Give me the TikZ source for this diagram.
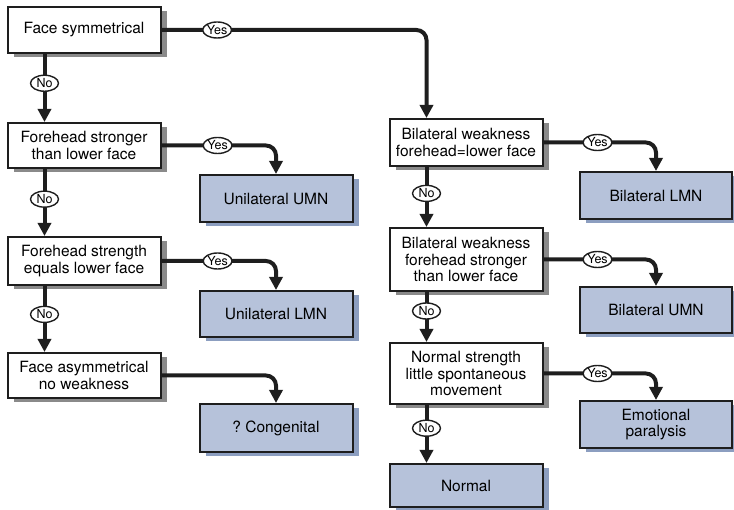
\documentclass[tikz,border=0pt]{standalone}
\usepackage{fontspec}
\setmainfont{TeX Gyre Heros}
\usetikzlibrary{arrows.meta,shapes.geometric,shadows}
\definecolor{ink}{HTML}{1E1E1E}
\definecolor{resultblue}{HTML}{B6C2DA}
\definecolor{shadowgray}{HTML}{8A8A8A}
\definecolor{shadowblue}{HTML}{8C9EC0}

\begin{document}
\begin{tikzpicture}[
    x=1pt, y=-1pt,
    >={Triangle[width=13pt,length=13pt]},
    boxbase/.style={draw=ink, line width=2pt, align=center, inner sep=2pt,
      font=\fontsize{15.5}{16.5}\selectfont},
    qbox/.style={boxbase, fill=white,
      drop shadow={shadow xshift=6pt, shadow yshift=-4pt, fill=shadowgray, opacity=1}},
    rbox/.style={boxbase, fill=resultblue,
      drop shadow={shadow xshift=6pt, shadow yshift=-4pt, fill=shadowblue, opacity=1}},
    yn/.style={ellipse, draw=ink, line width=1.4pt, fill=white, inner sep=0pt,
      minimum width=28pt, minimum height=16pt, font=\fontsize{12.5}{12.5}\selectfont},
    flow/.style={draw=ink, line width=4pt, ->, rounded corners=10pt},
  ]
  \def\qw{153pt}
  \clip (0,0) rectangle (734,510);

  % ========= LEFT: UNILATERAL =========
  \node[qbox, minimum width=\qw, minimum height=46pt] (fs) at (84,30) {Face symmetrical};
  \node[qbox, minimum width=\qw, minimum height=45pt] (fh) at (84,145.5) {Forehead stronger\\than lower face};
  \node[qbox, minimum width=\qw, minimum height=48pt] (fe) at (84,261) {Forehead strength\\equals lower face};
  \node[qbox, minimum width=\qw, minimum height=45pt] (fa) at (84,375.5) {Face asymmetrical\\no weakness};

  % Results
  \node[rbox, minimum width=\qw, minimum height=47pt] (uu) at (276,198.5) {Unilateral UMN};
  \node[rbox, minimum width=\qw, minimum height=46pt] (ul) at (276,314) {Unilateral LMN};
  \node[rbox, minimum width=\qw, minimum height=48pt] (cg) at (276,428) {?\ Congenital};

  % ========= RIGHT: BILATERAL =========
  \node[qbox, minimum width=\qw, minimum height=47pt] (bw1) at (466,142.5) {Bilateral weakness\\forehead=lower face};
  \node[qbox, minimum width=\qw, minimum height=63pt] (bw2) at (466,259.5) {Bilateral weakness\\forehead stronger\\than lower face};
  \node[qbox, minimum width=\qw, minimum height=61pt] (ns) at (466,373.5) {Normal strength\\little spontaneous\\movement};
  \node[rbox, minimum width=\qw, minimum height=43pt] (nm) at (466,485.5) {Normal};

  % Results
  \node[rbox, minimum width=152pt, minimum height=47pt] (bl) at (656,195.5) {Bilateral LMN};
  \node[rbox, minimum width=152pt, minimum height=46pt] (bu) at (656,310) {Bilateral UMN};
  \node[rbox, minimum width=152pt, minimum height=47pt] (ep) at (656,424.5) {Emotional\\paralysis};

  % No branches
  \draw[flow] ([xshift=38pt]fs.south west) -- node[yn, pos=0.43] {No} ([xshift=38pt]fh.north west);
  \draw[flow] ([xshift=38pt]fh.south west) -- node[yn, pos=0.45] {No} ([xshift=38pt]fe.north west);
  \draw[flow] ([xshift=38pt]fe.south west) -- node[yn, pos=0.43] {No} ([xshift=38pt]fa.north west);
  \draw[flow] ([xshift=38pt]bw1.south west) -- node[yn, pos=0.44] {No} ([xshift=38pt]bw2.north west);
  \draw[flow] ([xshift=38pt]bw2.south west) -- node[yn, pos=0.38] {No} ([xshift=38pt]ns.north west);
  \draw[flow] ([xshift=38pt]ns.south west) -- node[yn, pos=0.4] {No} ([xshift=38pt]nm.north west);

  % Yes branches
  \draw[flow] (fs.east) -| node[yn, pos=0.105] {Yes} ([xshift=38pt]bw1.north west);
  \draw[flow] (fh.east) -| node[yn, pos=0.245] {Yes} (uu.north);
  \draw[flow] (fe.east) -| node[yn, pos=0.245] {Yes} (ul.north);
  \draw[flow] (fa.east) -| (cg.north);
  \draw[flow] (bw1.east) -| node[yn, pos=0.24] {Yes} (bl.north);
  \draw[flow] (bw2.east) -| node[yn, pos=0.24] {Yes} (bu.north);
  \draw[flow] (ns.east) -| node[yn, pos=0.24] {Yes} (ep.north);
\end{tikzpicture}
\end{document}
